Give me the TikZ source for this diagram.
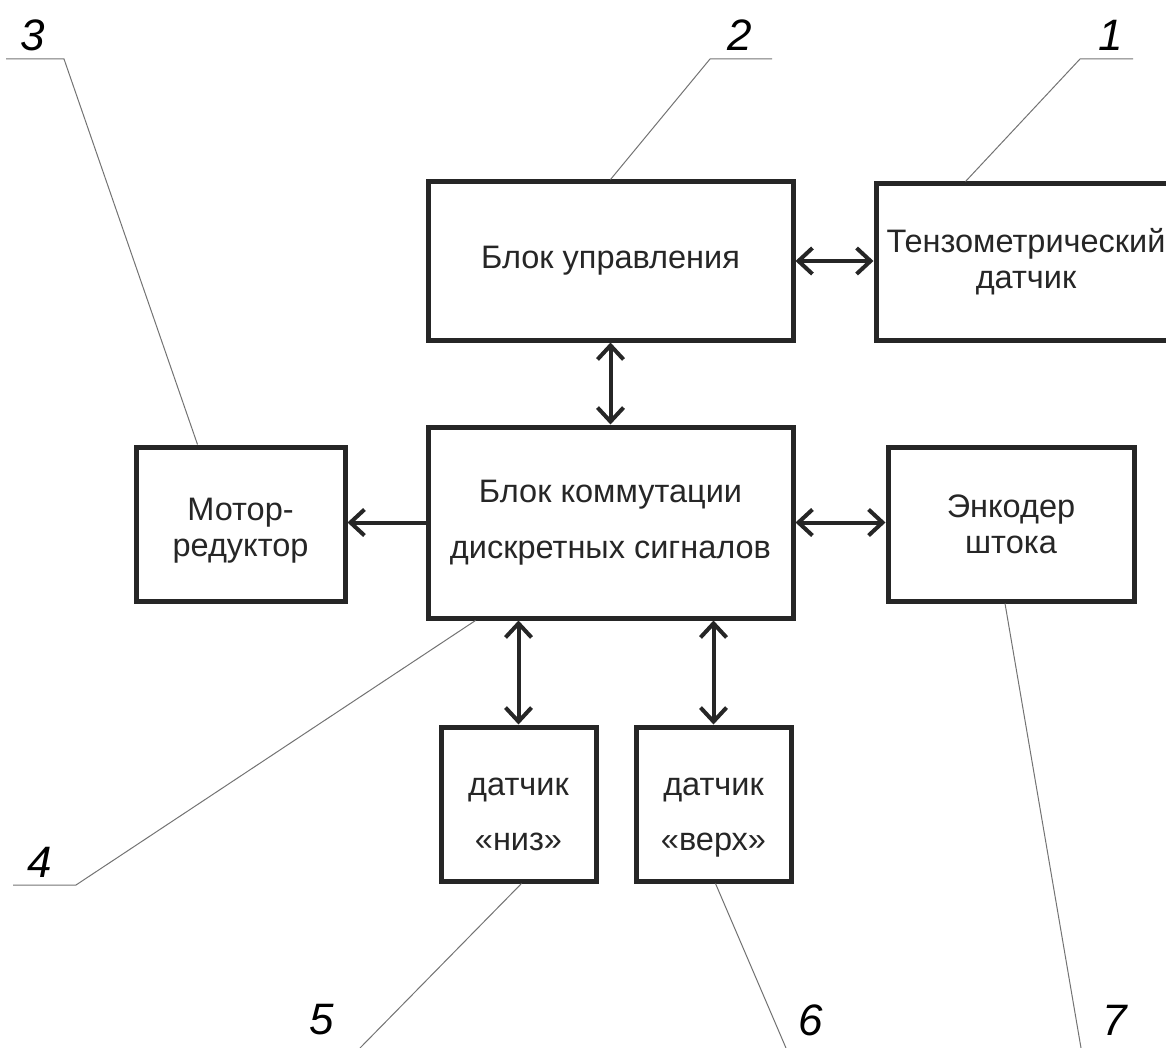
\documentclass[tikz,border=0pt]{standalone}
\usepackage{fontspec}
\setmainfont{Liberation Sans}
\usetikzlibrary{arrows.meta}
\begin{document}
\begin{tikzpicture}[x=1pt,y=-1pt,line join=miter,
 blok/.style={draw=black!85,line width=5pt,align=center,inner sep=0pt,text=black!85,font=\fontsize{32.5}{36}\selectfont},
 tip/.tip={Straight Barb[length=14pt,width=26pt]},
 dbl/.style={line width=4pt,draw=black!85,tip-tip},
 one/.style={line width=4pt,draw=black!85,-tip},
 lead/.style={line width=1pt,draw=black!55},
 num/.style={font=\fontsize{44}{44}\selectfont\itshape,inner sep=0pt}]
 \useasboundingbox (0,0) rectangle (1166,1048);
 \clip (0,0) rectangle (1166,1048);
 % blocks
 \node[blok,minimum width=365pt,minimum height=158pt] (ctrl) at (610.5,261) {Блок управления};
 \node[blok,minimum width=300pt,minimum height=156pt] (tenzo) at (1026,262) {Тензометрический\\датчик};
 \node[blok,minimum width=365pt,minimum height=191pt] (comm) at (610.5,522.5) {Блок коммутации\\[20pt]дискретных сигналов};
 \node[blok,minimum width=209pt,minimum height=154pt] (motor) at (240.5,524) {\rule{0pt}{36pt}Мотор-\\редуктор};
 \node[blok,minimum width=246pt,minimum height=154pt] (enc) at (1011,524) {Энкодер\\штока};
 \node[blok,minimum width=155pt,minimum height=154pt] (low) at (518.5,804) {\rule{0pt}{45pt}датчик\\[19pt]«низ»\rule[-7pt]{0pt}{7pt}};
 \node[blok,minimum width=155pt,minimum height=154pt] (up) at (713.5,804) {\rule{0pt}{45pt}датчик\\[19pt]«верх»\rule[-7pt]{0pt}{7pt}};
 % links
 \draw[dbl] (ctrl.east) -- (ctrl.east -| tenzo.west);
 \draw[dbl] (ctrl.south) -- (comm.north);
 \draw[one] (comm.west) -- (comm.west -| motor.east);
 \draw[dbl] (comm.east) -- (comm.east -| enc.west);
 \draw[dbl] (low.north |- comm.south) -- (low.north);
 \draw[dbl] (up.north |- comm.south) -- (up.north);
 % position numbers
 \node[num] (n1) at (1111,35) {1};
 \node[num] (n2) at (740,35) {2};
 \node[num] (n3) at (33,35) {3};
 \node[num] (n4) at (40,862) {4};
 \node[num] (n5) at (322,1020) {5};
 \node[num] (n6) at (811,1020) {6};
 \node[num] (n7) at (1115,1020) {7};
 \draw[lead] (tenzo.north west) ++(92,0) -- (1080,59) -- (1133,59);
 \draw[lead] (ctrl.north) -- (710,59) -- (772,59);
 \draw[lead] (motor.north west) ++(64,0) -- (64,59) -- (6,59);
 \draw[lead] (comm.south west) ++(50,0) -- (76,885) -- (13,885);
 \draw[lead] (low.south) ++(3,0) -- (360,1048);
 \draw[lead] (up.south) ++(2,0) -- (786,1048);
 \draw[lead] (enc.south) ++(-6,0) -- (1081,1048);
\end{tikzpicture}
\end{document}
